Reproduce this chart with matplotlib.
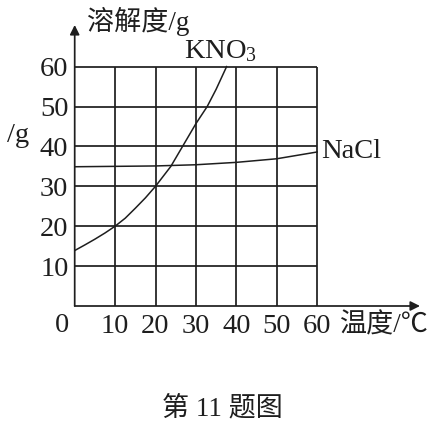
import matplotlib
matplotlib.use('Agg')
import matplotlib.pyplot as plt

# datos
temperatura = [0, 10, 20, 30, 40, 50, 60]
solubilidad = [10, 20, 30, 40, 50, 60]

kno3_t = [0, 2.5, 5, 7.5, 10, 12.5, 15, 17.5, 20, 23.8, 26.7, 30, 32.8, 35, 37.6]
kno3_s = [13.9, 15.3, 16.75, 18.3, 20, 22.0, 24.5, 27.1, 30, 35, 40, 45.7, 50, 54.3, 60]

nacl_t = [0, 10, 20, 30, 40, 50, 60]
nacl_s = [34.9, 35.0, 35.1, 35.4, 36.0, 36.9, 38.6]

plt.rcParams['mathtext.fontset'] = 'custom'
plt.rcParams['mathtext.rm'] = 'Liberation Serif'
plt.rcParams['mathtext.it'] = 'Liberation Serif'
fuentes = ['Liberation Serif', 'Noto Sans CJK SC', 'DejaVu Sans']
tam = 20.5

W, H = 448, 426
fig = plt.figure(figsize=(W / 100, H / 100), dpi=100)
# ejes: x=0 en 74.7 px, 10 unidades = 40.4 px ; y=0 en 306 px, 10 unidades = 39.9 px
x0, y0, sx, sy = 74.7, 306, 4.04, 3.99
xmax, ymax = (420 - x0) / sx, (y0 - 25) / sy
ax = fig.add_axes([x0 / W, (H - y0) / H, (xmax * sx) / W, (ymax * sy) / H])
ax.set_xlim(0, xmax)
ax.set_ylim(0, ymax)
for s in ax.spines.values():
    s.set_visible(False)
ax.patch.set_alpha(0)

lw = 1.25
color = '#1e1e1e'
# cuadricula
ax.hlines(solubilidad, 0, max(temperatura), color=color, lw=lw)
ax.vlines(temperatura[1:], 0, max(solubilidad), color=color, lw=lw)

# ejes con flechas
ax.annotate('', xy=(0, ymax), xytext=(0, 0),
            arrowprops=dict(arrowstyle='-|>', color=color, lw=lw, mutation_scale=14, shrinkA=0, shrinkB=0))
ax.annotate('', xy=(xmax, 0), xytext=(0, 0),
            arrowprops=dict(arrowstyle='-|>', color=color, lw=lw, mutation_scale=14, shrinkA=0, shrinkB=0))

# curvas
ax.plot(kno3_t, kno3_s, color=color, lw=1.1)
ax.plot(nacl_t, nacl_s, color=color, lw=1.1)

ax.set_xticks(temperatura[1:])
ax.set_xticklabels([str(t) for t in temperatura[1:]], family=fuentes, fontsize=tam)
ax.set_yticks(solubilidad)
ax.set_yticklabels([str(s) for s in solubilidad], family=fuentes, fontsize=tam)
ax.tick_params(axis='both', length=0, colors=color)
ax.tick_params(axis='x', pad=6)
ax.tick_params(axis='y', pad=4.5)

def px_text(x, y, s, **kw):
    fig.text(x / W, 1 - y / H, s, family=fuentes, color=color, **kw)

px_text(62, 326, '0', fontsize=tam, ha='center', va='center')
px_text(87, 21, '溶解度/g', fontsize=19.5, ha='left', va='center')
px_text(184, 51, 'KNO$_3$', fontsize=tam, ha='left', va='center')
px_text(7, 136, '/g', fontsize=tam, ha='left', va='center')
px_text(321, 152, 'NaCl', fontsize=tam, ha='left', va='center')
px_text(339, 326, '温度/℃', fontsize=19.5, ha='left', va='center')
px_text(222, 409, '第 11 题图', fontsize=19.5, ha='center', va='center')

fig.savefig('out.png', dpi=100)
